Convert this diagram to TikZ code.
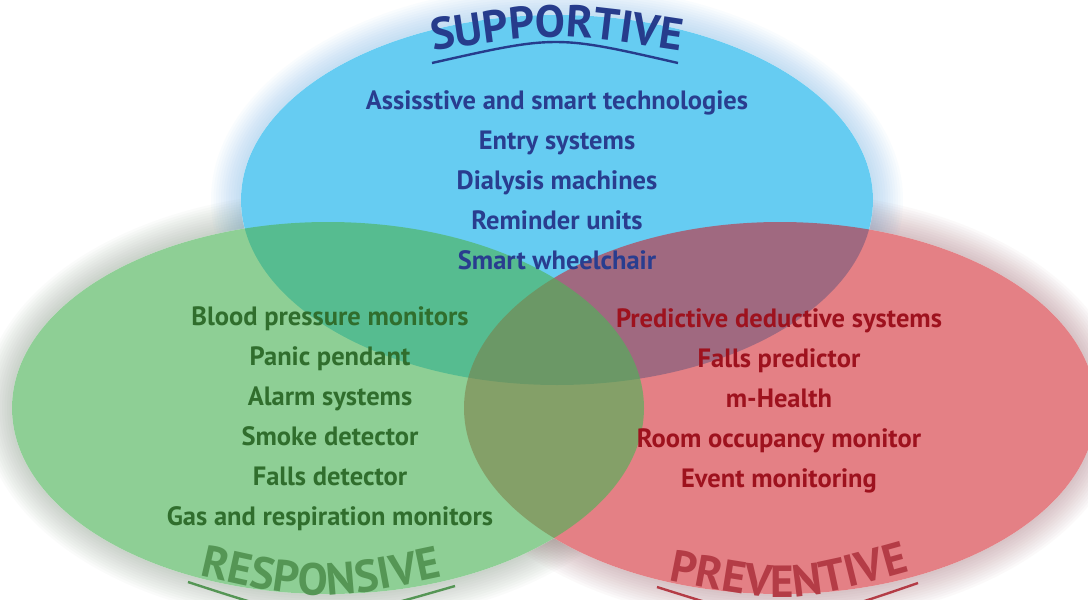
\documentclass[tikz,border=0pt]{standalone}
\usepackage{fontspec}
\setmainfont{PT Sans}
\usetikzlibrary{decorations.text}
\definecolor{bluefill}{RGB}{102,204,242}
\definecolor{redfill}{RGB}{207,29,39}
\definecolor{greenfill}{RGB}{77,180,88}
\definecolor{blueglow}{RGB}{90,170,225}
\definecolor{redglow}{RGB}{150,85,95}
\definecolor{greenglow}{RGB}{110,130,110}
\definecolor{bluetext}{RGB}{41,61,143}
\definecolor{greentext}{RGB}{48,110,45}
\definecolor{redtext}{RGB}{158,18,30}
\definecolor{suptitle}{RGB}{38,60,140}
\definecolor{restitle}{RGB}{85,150,85}
\definecolor{pretitle}{RGB}{180,60,70}
\newcommand\ttlfont{\fontsize{45}{45}\selectfont\bfseries}
\begin{document}
\begin{tikzpicture}[x=1pt,y=-1pt,
  item/.style={font=\fontsize{26.5}{26.5}\selectfont\bfseries, anchor=base, inner sep=0pt},
  bitem/.style={item, text=bluetext},
  gitem/.style={item, text=greentext},
  ritem/.style={item, text=redtext},
  glowlayer/.style={opacity=0.03}]
\useasboundingbox (0,0) rectangle (1088,600);
\fill[white] (0,0) rectangle (1088,600);
% soft outer glows
\foreach \k in {1,...,12} {
  \fill[blueglow, glowlayer] (557,200) ellipse [x radius={316+2.5*\k}, y radius={185+2.5*\k}];
  \fill[greenglow, glowlayer] (328,408) ellipse [x radius={316+2.5*\k}, y radius={186+2.5*\k}];
  \fill[redglow, glowlayer] (780,408) ellipse [x radius={316+2.5*\k}, y radius={186+2.5*\k}];
}
% white bases
\fill[white] (557,200) ellipse [x radius=316, y radius=185];
\fill[white] (328,408) ellipse [x radius=316, y radius=186];
\fill[white] (780,408) ellipse [x radius=316, y radius=186];
% circles
\fill[bluefill] (557,200) ellipse [x radius=316, y radius=185];
\fill[redfill, fill opacity=0.56] (780,408) ellipse [x radius=316, y radius=186];
\fill[greenfill, fill opacity=0.63] (328,408) ellipse [x radius=316, y radius=186];
% titles
\path[decorate, decoration={text along path, text align=center, text format delimiters={|}{|},
  text={|\ttlfont\color{suptitle}|SUPPORTIVE}}] (426,52) .. controls (556,32) .. (688,52);
\draw[suptitle, line width=2.4pt] (432,63) .. controls (556,35) .. (678,63);
\path[decorate, decoration={text along path, text align=center, text format delimiters={|}{|},
  text={|\ttlfont\color{restitle}|RESPONSIVE}}] (186,572) .. controls (320,603) .. (456,574);
\draw[restitle, line width=2.4pt] (188,582) .. controls (320,625) .. (455,586);
\path[decorate, decoration={text along path, text align=center, text format delimiters={|}{|},
  text={|\ttlfont\color{pretitle}|PREVENTIVE}}] (656,578) .. controls (790,605) .. (922,568);
\draw[pretitle, line width=2.4pt] (657,587) .. controls (787,628) .. (918,583);
% supportive items
\node[bitem] (s1) at (557,109) {Assisstive and smart technologies};
\node[bitem] (s2) at (557,149) {Entry systems};
\node[bitem] (s3) at (557,189) {Dialysis machines};
\node[bitem] (s4) at (557,229) {Reminder units};
\node[bitem] (s5) at (557,269) {Smart wheelchair};
% responsive items
\node[gitem] (r1) at (330,325) {Blood pressure monitors};
\node[gitem] (r2) at (330,365) {Panic pendant};
\node[gitem] (r3) at (330,405) {Alarm systems};
\node[gitem] (r4) at (330,445) {Smoke detector};
\node[gitem] (r5) at (330,485) {Falls detector};
\node[gitem] (r6) at (330,525) {Gas and respiration monitors};
% preventive items
\node[ritem] (p1) at (779,327) {Predictive deductive systems};
\node[ritem] (p2) at (779,367) {Falls predictor};
\node[ritem] (p3) at (779,407) {m-Health};
\node[ritem] (p4) at (779,447) {Room occupancy monitor};
\node[ritem] (p5) at (779,487) {Event monitoring};
\end{tikzpicture}
\end{document}
